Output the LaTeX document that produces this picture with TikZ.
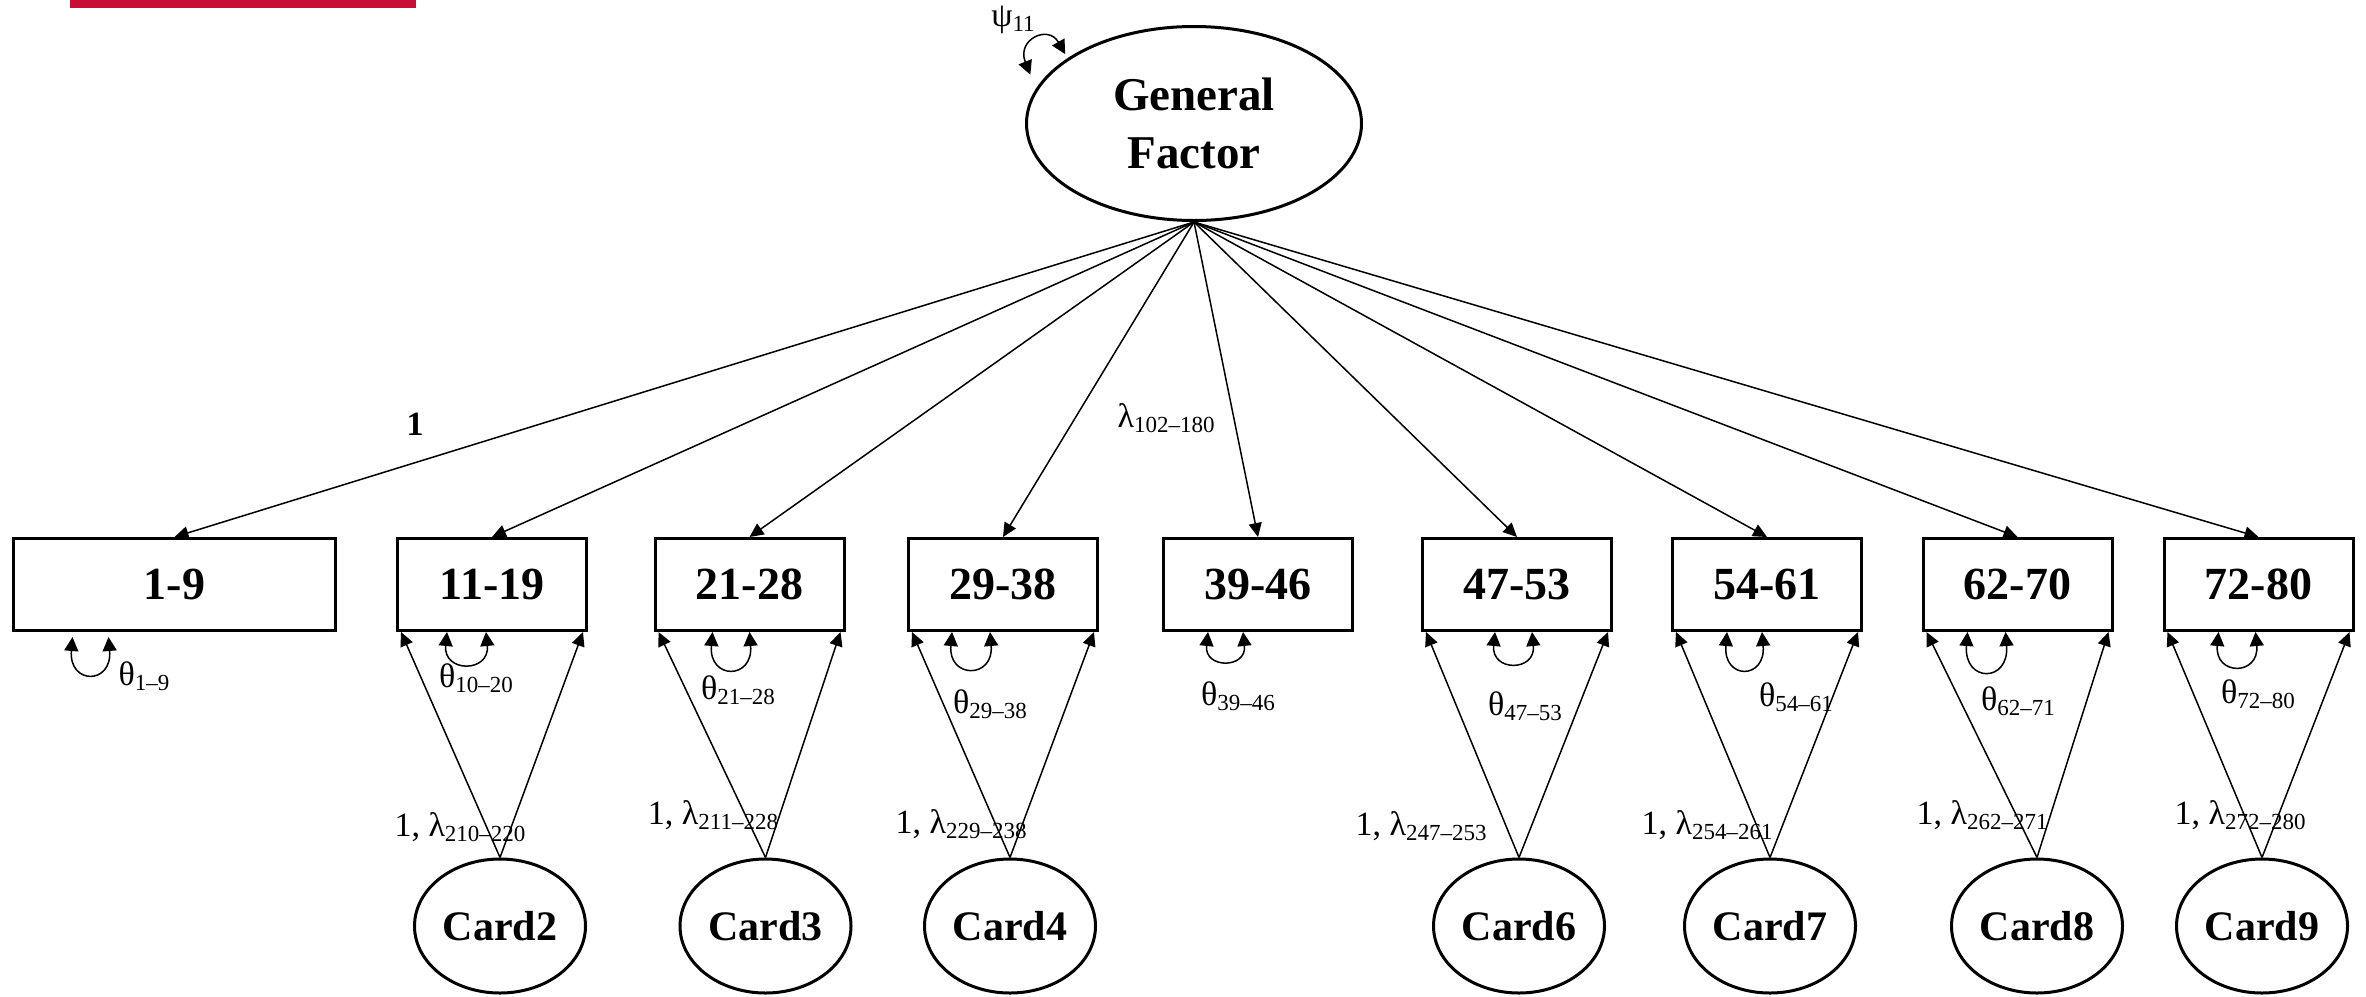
\documentclass[tikz,border=0pt]{standalone}
\usepackage{fontspec}
\setmainfont{Liberation Serif}
\usetikzlibrary{arrows.meta,shapes.geometric}
\definecolor{barred}{RGB}{200,14,54}
\newcommand\lsub[1]{\raisebox{-2.5pt}{\fontsize{11.5}{12}\selectfont #1}}
\begin{document}
\begin{tikzpicture}[x=0.5pt,y=-0.5pt,
  box/.style={draw,line width=1.5pt,minimum width=94.5pt,minimum height=46pt,inner sep=0pt,font=\fontsize{23}{27}\selectfont\bfseries},
  card/.style={draw,ellipse,line width=1.5pt,minimum width=85.5pt,minimum height=67pt,inner sep=0pt,font=\fontsize{21}{25}\selectfont\bfseries},
  conn/.style={line width=0.75pt,-{Triangle[length=7pt,width=6.5pt]}},
  var/.style={line width=0.75pt,{Triangle[length=7pt,width=7pt]}-{Triangle[length=7pt,width=7pt]}},
  lbl/.style={inner sep=0pt,font=\fontsize{17}{20}\selectfont}]
\useasboundingbox (0,0) rectangle (2366,996);
\fill[barred] (70,0) rectangle (416,8);

% general factor
\node[draw,ellipse,line width=1.5pt,minimum width=167.5pt,minimum height=97pt,inner sep=0pt,
      align=center,font=\fontsize{23.5}{29}\selectfont\bfseries] (GF) at (1194,123.5) {General\\Factor};
\node[lbl] (psi) at (1013,20) {ψ\lsub{11}};
\draw[var] ([shift={(-14,-3)}]GF.163) .. controls +(-14,-35) and +(-17,-30) .. ([shift={(-4,-3)}]GF.152);

% observed boxes
\node[box,minimum width=161pt] (b1) at (174.5,584.5) {1-9};
\node[box] (b2) at (492,584.5) {11-19};
\node[box] (b3) at (749.5,584.5) {21-28};
\node[box] (b4) at (1003,584.5) {29-38};
\node[box] (b5) at (1258,584.5) {39-46};
\node[box] (b6) at (1517,584.5) {47-53};
\node[box] (b7) at (1767,584.5) {54-61};
\node[box] (b8) at (2017.5,584.5) {62-70};
\node[box] (b9) at (2258.5,584.5) {72-80};

% card factors
\node[card] (c2) at (500,926) {Card2};
\node[card] (c3) at (765.5,926) {Card3};
\node[card] (c4) at (1010,926) {Card4};
\node[card] (c6) at (1519,926) {Card6};
\node[card] (c7) at (1770,926) {Card7};
\node[card] (c8) at (2037,926) {Card8};
\node[card] (c9) at (2262,926) {Card9};

% general factor loadings
\foreach \b in {b1,b2,b3,b4,b5,b6,b7,b8,b9}
  \draw[conn] (GF.south) -- (\b.north);

% card loadings
\foreach \c/\b in {c2/b2,c3/b3,c4/b4,c6/b6,c7/b7,c8/b8,c9/b9}{
  \draw[conn] (\c.north) -- ([shift={(5,0)}]\b.south west);
  \draw[conn] (\c.north) -- ([shift={(-5,0)}]\b.south east);
}

% residual variances
\draw[var] ([shift={(-102,5)}]b1.south) .. controls +(-4,48) and +(4,48) .. ([shift={(-66,5)}]b1.south);
\foreach \b/\xa/\xb/\d in {b2/-45/-6/41,b3/-37/0/48,b4/-51/-13/47,b5/-50/-15/37,b6/-22/15/40,b7/-40/-5/48,b8/-50/-12/51,b9/-40/-3/44}
  \draw[var] ([shift={(\xa,0)}]\b.south) .. controls +(-4,\d) and +(4,\d) .. ([shift={(\xb,0)}]\b.south);

% labels
\node[lbl,font=\fontsize{17}{20}\selectfont\bfseries] (one) at (415,424) {1};
\node[lbl] (lg) at (1166,418) {λ\lsub{102–180}};
\node[lbl] (t1) at (144,676) {θ\lsub{1–9}};
\node[lbl] (t2) at (476,678) {θ\lsub{10–20}};
\node[lbl] (t3) at (738,690) {θ\lsub{21–28}};
\node[lbl] (t4) at (990,704) {θ\lsub{29–38}};
\node[lbl] (t5) at (1238,696) {θ\lsub{39–46}};
\node[lbl] (t6) at (1525,706) {θ\lsub{47–53}};
\node[lbl] (t7) at (1796,697) {θ\lsub{54–61}};
\node[lbl] (t8) at (2018,701) {θ\lsub{62–71}};
\node[lbl] (t9) at (2258,694) {θ\lsub{72–80}};
\node[lbl] (l2) at (460,827) {1, λ\lsub{210–220}};
\node[lbl] (l3) at (713,815) {1, λ\lsub{211–228}};
\node[lbl] (l4) at (961,824) {1, λ\lsub{229–238}};
\node[lbl] (l6) at (1421,826) {1, λ\lsub{247–253}};
\node[lbl] (l7) at (1707,825) {1, λ\lsub{254–261}};
\node[lbl] (l8) at (1982,815) {1, λ\lsub{262–271}};
\node[lbl] (l9) at (2240,815) {1, λ\lsub{272–280}};
\end{tikzpicture}
\end{document}
